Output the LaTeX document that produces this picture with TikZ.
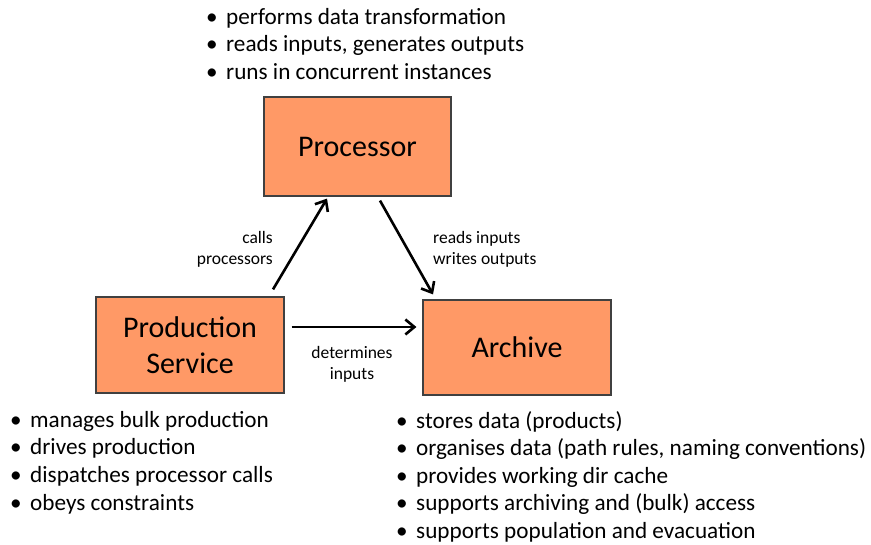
\documentclass[tikz,border=0pt]{standalone}
\usepackage{fontspec}
\setmainfont{Carlito}
\usetikzlibrary{arrows.meta}
\definecolor{boxfill}{HTML}{FF9966}
\definecolor{boxline}{HTML}{404040}
\tikzset{
  block/.style={draw=boxline,line width=1.2pt,fill=boxfill,align=center,inner sep=0pt,
    font=\fontsize{30}{36}\selectfont},
  flow/.style={line width=2.6pt,-{Straight Barb[length=9pt,width=15pt,line width=2.6pt]}},
  edgelabel/.style={font=\fontsize{17.5}{21}\selectfont,inner sep=0pt},
  notes/.style={font=\fontsize{23.2}{27.6}\selectfont,align=left,inner sep=0pt,anchor=north west}
}
\newcommand{\bul}{\makebox[20pt][l]{\textbullet}}
\begin{document}
\begin{tikzpicture}[x=1pt,y=-1pt]
  \useasboundingbox (0,0) rectangle (871,545);
  % the three components
  \node[block,minimum width=187pt,minimum height=99pt] (proc) at (357.5,146.5) {Processor};
  \node[block,minimum width=188pt,minimum height=96pt] (prod) at (190,345) {Production\\Service};
  \node[block,minimum width=188pt,minimum height=95pt] (arch) at (517,347.5) {Archive};
  % connectors
  \draw[flow] ([shift={(83,-7)}]prod.north) -- ([shift={(-30.5,2)}]proc.south);
  \draw[flow] ([shift={(22.5,4)}]proc.south) -- ([shift={(-84,-5)}]arch.north);
  \draw[flow] ([shift={(7,-18)}]prod.east) -- ([shift={(-6,-20.5)}]arch.west);
  \node[edgelabel,align=right,anchor=east] (lblcalls) at (273,249) {calls\\processors};
  \node[edgelabel,align=left,anchor=west] (lblreads) at (433,249) {reads inputs\\writes outputs};
  \node[edgelabel,align=center] (lbldet) at (352,364) {determines\\inputs};
  % bullet notes
  \node[notes] (procnotes) at (206,8) {\bul performs data transformation\\
    \bul reads inputs, generates outputs\\ \bul runs in concurrent instances};
  \node[notes] (prodnotes) at (10,411) {\bul manages bulk production\\ \bul drives production\\
    \bul dispatches processor calls\\ \bul obeys constraints};
  \node[notes] (archnotes) at (396,411) {\bul stores data (products)\\
    \bul organises data (path rules, naming conventions)\\ \bul provides working dir cache\\
    \bul supports archiving and (bulk) access\\ \bul supports population and evacuation};
\end{tikzpicture}
\end{document}
